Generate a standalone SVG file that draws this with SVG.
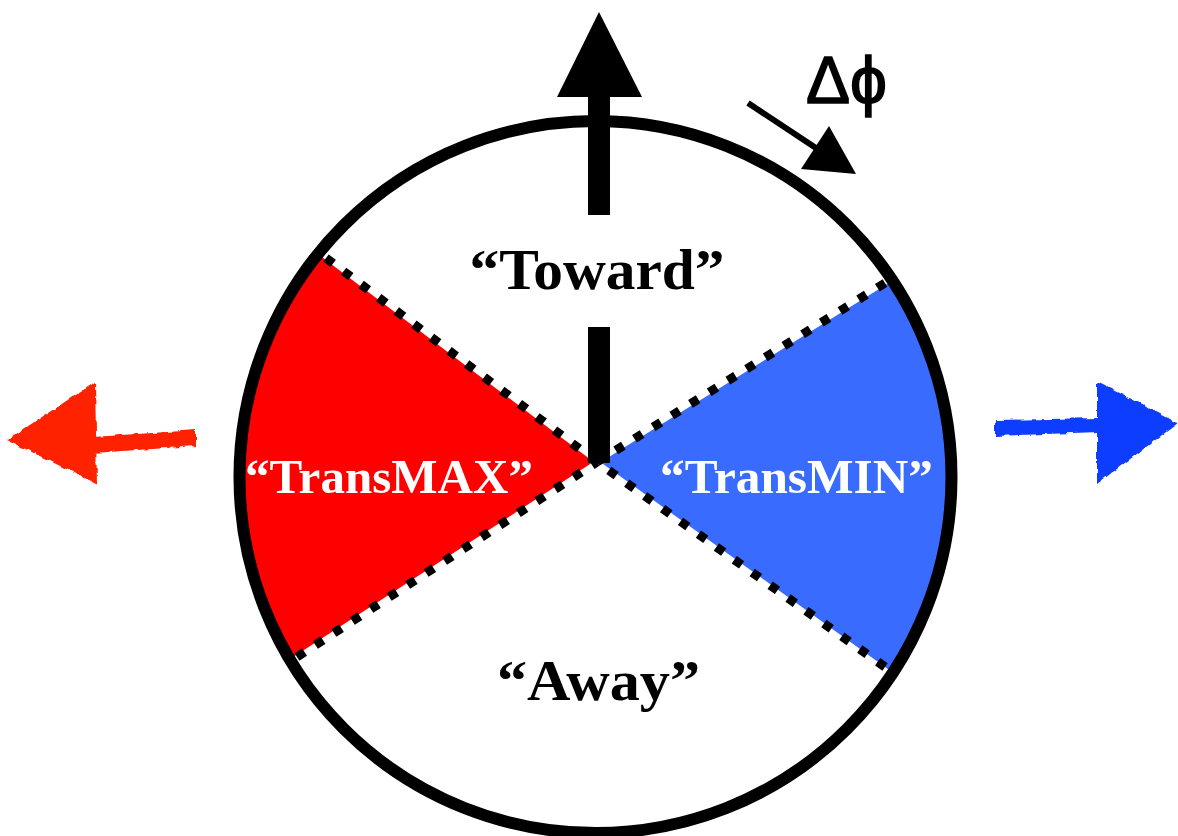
<svg xmlns="http://www.w3.org/2000/svg" width="1178" height="836" viewBox="0 0 1178 836">
  <defs>
    <style>
      .lbl { font-family: "Liberation Serif", "Times New Roman", serif; font-weight: bold; text-anchor: middle; }
      .dark { fill: #000; }
      .light { fill: #fff; }
      .dotbg { stroke: #fff; stroke-width: 4; fill: none; }
      .dot { stroke: #000; stroke-width: 9; stroke-dasharray: 9 13; fill: none; }
      .bar { fill: #000; }
    </style>
    <filter id="rough" x="-10%" y="-10%" width="120%" height="120%">
      <feTurbulence type="fractalNoise" baseFrequency="0.12" numOctaves="2" seed="3" result="n"/>
      <feDisplacementMap in="SourceGraphic" in2="n" scale="5" xChannelSelector="R" yChannelSelector="G"/>
    </filter>
  </defs>
  <rect width="1178" height="836" fill="#fff"/>

  <g id="sector-transmax">
    <path d="M597,462 L319.4,252.6 A356,356 0 0,0 290.8,661 Z" fill="#ff0000"/>
  </g>
  <g id="sector-transmin">
    <path d="M597,462 L891.3,279 A356,356 0 0,1 891.8,674.3 Z" fill="#3a6bff"/>
  </g>

  <g id="boundaries">
    <path class="dotbg" d="M319.4,252.6 L597,462 L290.8,661 M891.3,279 L597,462 L891.8,674.3"/>
    <path class="dot" d="M326,258 L597,462"/>
    <path class="dot" d="M297,657 L597,462"/>
    <path class="dot" d="M885,283 L597,462"/>
    <path class="dot" d="M885,667 L597,462"/>
  </g>

  <g id="circle">
    <circle cx="595.5" cy="477" r="356" fill="none" stroke="#000" stroke-width="12"/>
  </g>

  <g id="connectors">
    <rect class="bar" x="588" y="327" width="22" height="136"/>
    <rect class="bar" x="588" y="94" width="22" height="121"/>
    <polygon class="bar" points="599,12 557,97 642,97"/>
    <line x1="748" y1="103" x2="822" y2="152" stroke="#000" stroke-width="6"/>
    <polygon class="bar" points="829,126 801,169 856,174"/>
  </g>

  <g id="label-toward">
    <text class="lbl dark" x="597" y="289" font-size="58" textLength="255" lengthAdjust="spacingAndGlyphs">“Toward”</text>
  </g>
  <g id="label-transmax">
    <text class="lbl light" x="389" y="493" font-size="49" textLength="288" lengthAdjust="spacingAndGlyphs">“TransMAX”</text>
  </g>
  <g id="label-transmin">
    <text class="lbl light" x="796.5" y="493" font-size="49" textLength="273" lengthAdjust="spacingAndGlyphs">“TransMIN”</text>
  </g>
  <g id="label-away">
    <text class="lbl dark" x="598.5" y="700" font-size="58" textLength="203" lengthAdjust="spacingAndGlyphs">“Away”</text>
  </g>
  <g id="label-dphi">
    <text x="806" y="103" font-family="Liberation Sans, Arial, sans-serif" font-size="66" stroke="#000" stroke-width="1.5" fill="#000">Δϕ</text>
  </g>

  <g id="arrow-left" filter="url(#rough)">
    <polygon points="7,440 95,382 97,484" fill="#ff2200"/>
    <polygon points="93,437 196,430 196,446 93,453" fill="#ff2200"/>
  </g>
  <g id="arrow-right" filter="url(#rough)">
    <polygon points="995,420 1099,418 1099,432 995,436" fill="#0a3cff"/>
    <polygon points="1097,382 1178,423 1097,484" fill="#0a3cff"/>
  </g>
</svg>
